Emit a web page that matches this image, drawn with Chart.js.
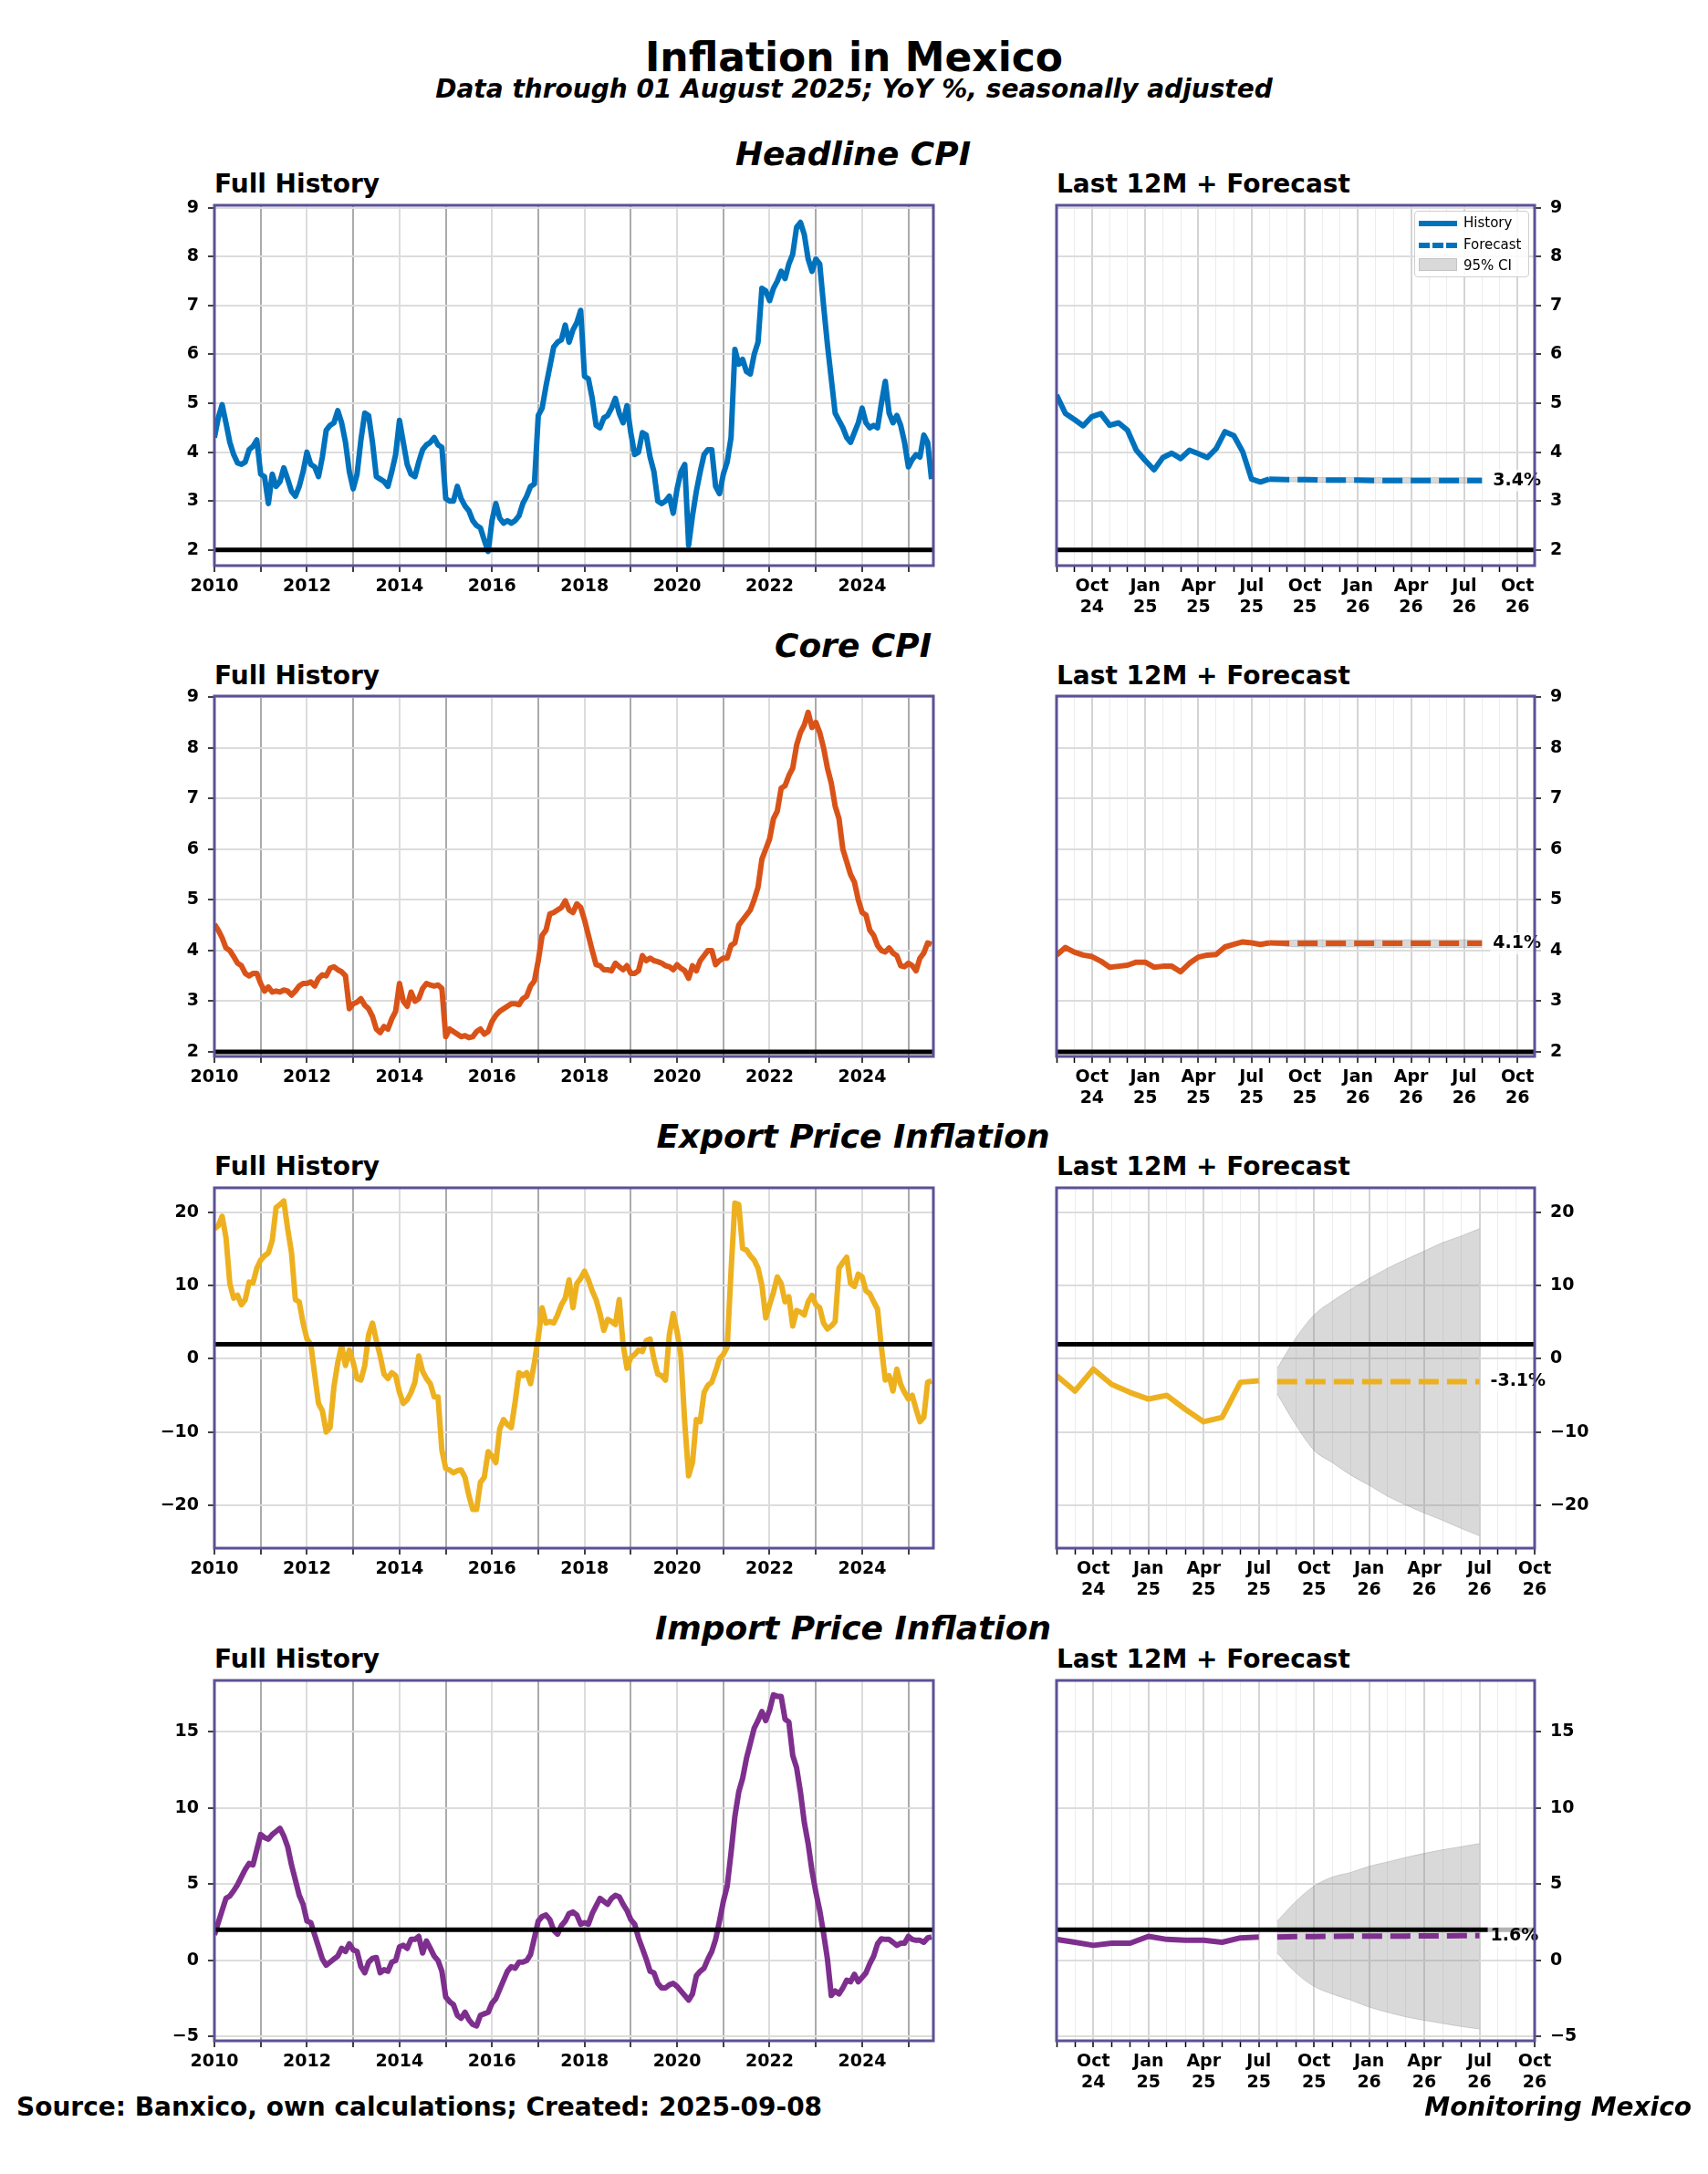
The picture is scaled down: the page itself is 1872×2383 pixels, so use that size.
<!DOCTYPE html>
<html>
<head>
<meta charset="utf-8">
<script src="https://cdn.jsdelivr.net/npm/chart.js@4.4.1/dist/chart.umd.min.js"></script>
<style>
  body { margin: 0; background: #fff; }
  #page { position: relative; width: 1872px; height: 2383px; background: #fff; overflow: hidden;
          font-family: "DejaVu Sans", sans-serif; color: #000; }
  .c { position: absolute; white-space: nowrap; line-height: 1; transform: translate(-50%, -50%); font-weight: bold; }
  .l { position: absolute; white-space: nowrap; line-height: 1; transform: translateY(-50%); font-weight: bold; }
  canvas { position: absolute; }
  #legend { position: absolute; left: 1550px; top: 231px; width: 126px; height: 73px; box-sizing: border-box;
            border: 1px solid #cfcfcf; border-radius: 4px; background: rgba(255,255,255,0.85); font-size: 15px; }
  #legend .it { position: absolute; left: 53px; line-height: 1; transform: translateY(-50%); white-space: nowrap; }
  #legend .hd { position: absolute; left: 4px; width: 42px; }
</style>
</head>
<body>
<div id="page">
  <div class="c" style="left:936px;top:63px;font-size:44px">Inflation in Mexico</div>
  <div class="c" style="left:936px;top:98px;font-size:28px;font-style:italic">Data through 01 August 2025; YoY %, seasonally adjusted</div>

  <div class="c" style="left:935px;top:169px;font-size:36px;font-style:italic">Headline CPI</div>
  <div class="l" style="left:235px;top:202px;font-size:28px">Full History</div>
  <div class="l" style="left:1158px;top:202px;font-size:28px">Last 12M + Forecast</div>

  <div class="c" style="left:935px;top:708px;font-size:36px;font-style:italic">Core CPI</div>
  <div class="l" style="left:235px;top:741px;font-size:28px">Full History</div>
  <div class="l" style="left:1158px;top:741px;font-size:28px">Last 12M + Forecast</div>

  <div class="c" style="left:935px;top:1246px;font-size:36px;font-style:italic">Export Price Inflation</div>
  <div class="l" style="left:235px;top:1279px;font-size:28px">Full History</div>
  <div class="l" style="left:1158px;top:1279px;font-size:28px">Last 12M + Forecast</div>

  <div class="c" style="left:935px;top:1785px;font-size:36px;font-style:italic">Import Price Inflation</div>
  <div class="l" style="left:235px;top:1819px;font-size:28px">Full History</div>
  <div class="l" style="left:1158px;top:1819px;font-size:28px">Last 12M + Forecast</div>

  <canvas id="h1"></canvas><canvas id="h2"></canvas>
  <canvas id="c1"></canvas><canvas id="c2"></canvas>
  <canvas id="e1"></canvas><canvas id="e2"></canvas>
  <canvas id="i1"></canvas><canvas id="i2"></canvas>

  <div id="legend">
    <div class="hd" style="top:10px;border-top:6px solid #0072BD"></div>
    <div class="it" style="top:12px">History</div>
    <div class="hd" style="top:34px;border-top:6px dashed #0072BD"></div>
    <div class="it" style="top:36px">Forecast</div>
    <div class="hd" style="top:51px;height:14px;background:#d9d9d9;border:1px solid #c4c4c4;box-sizing:border-box"></div>
    <div class="it" style="top:59px">95% CI</div>
  </div>

  <div class="l" style="left:18px;top:2310px;font-size:28px">Source: Banxico, own calculations; Created: 2025-09-08</div>
  <div class="l" style="right:18px;top:2310px;font-size:28px;font-style:italic">Monitoring Mexico</div>
</div>

<script>
// ---- data ----
const histStart = 2010; // monthly, Jan 2010 .. Jul 2025
const target = 2;

const headlineHist = [
  4.3, 4.7, 4.97, 4.6, 4.2, 3.95, 3.78, 3.75, 3.8, 4.05, 4.12, 4.25,
  3.55, 3.5, 2.95, 3.55, 3.3, 3.4, 3.68, 3.45, 3.2, 3.1, 3.3, 3.6,
  4.0, 3.75, 3.7, 3.5, 3.9, 4.45, 4.55, 4.6, 4.85, 4.6, 4.2, 3.6,
  3.25, 3.55, 4.25, 4.8, 4.75, 4.2, 3.5, 3.45, 3.4, 3.3, 3.6, 3.95,
  4.65, 4.2, 3.75, 3.55, 3.5, 3.8, 4.05, 4.15, 4.2, 4.3, 4.15, 4.1,
  3.05, 3.0, 3.0, 3.3, 3.05, 2.9, 2.8, 2.6, 2.5, 2.45, 2.2, 1.97,
  2.6, 2.95, 2.65, 2.55, 2.6, 2.55, 2.6, 2.7, 2.95, 3.1, 3.3, 3.35,
  4.75, 4.9, 5.35, 5.75, 6.15, 6.25, 6.3, 6.6, 6.25, 6.5, 6.65, 6.9,
  5.55, 5.5, 5.1, 4.55, 4.5, 4.7, 4.75, 4.9, 5.1, 4.8, 4.6, 4.95,
  4.4, 3.95, 4.0, 4.4, 4.35, 3.9, 3.6, 3.0, 2.95, 3.0, 3.1, 2.75,
  3.25, 3.6, 3.75, 2.1, 2.7, 3.2, 3.6, 3.95, 4.05, 4.05, 3.3, 3.15,
  3.55, 3.8, 4.3, 6.1, 5.8, 5.9, 5.65, 5.6, 6.0, 6.25, 7.35, 7.3,
  7.1, 7.35, 7.5, 7.7, 7.55, 7.85, 8.05, 8.6, 8.7, 8.45, 7.95, 7.7,
  7.95, 7.85, 7.0, 6.2, 5.5, 4.8, 4.65, 4.5, 4.3, 4.2, 4.4, 4.6,
  4.9, 4.6, 4.5, 4.55, 4.5, 5.0, 5.45, 4.8, 4.6, 4.75, 4.55, 4.2,
  3.7, 3.85, 3.95, 3.9, 4.35, 4.2, 3.45
];
const coreHist = [
  4.52, 4.4, 4.25, 4.05, 4.0, 3.88, 3.75, 3.7, 3.55, 3.5, 3.55, 3.55,
  3.35, 3.2, 3.28, 3.18, 3.2, 3.18, 3.22, 3.2, 3.12, 3.2, 3.3, 3.35,
  3.35, 3.38, 3.3, 3.45, 3.52, 3.5, 3.65, 3.68, 3.62, 3.58, 3.5, 2.85,
  2.95, 2.98, 3.05, 2.92, 2.85, 2.7, 2.45, 2.38, 2.5, 2.45, 2.65, 2.8,
  3.35, 3.0, 2.9, 3.18, 3.0, 3.05, 3.25, 3.35, 3.32, 3.3, 3.32, 3.25,
  2.3, 2.45, 2.4, 2.35, 2.3, 2.32, 2.28, 2.3, 2.4, 2.45, 2.35, 2.4,
  2.6, 2.72, 2.8, 2.85, 2.9, 2.95, 2.95, 2.93, 3.05, 3.1, 3.3, 3.4,
  3.8, 4.3, 4.4, 4.72, 4.75, 4.8, 4.85, 4.98, 4.8, 4.75, 4.92, 4.85,
  4.6, 4.3, 4.0, 3.72, 3.7, 3.62, 3.62, 3.6, 3.75, 3.68, 3.62, 3.7,
  3.55, 3.55, 3.6, 3.9, 3.8, 3.85, 3.8, 3.78, 3.75, 3.7, 3.68, 3.62,
  3.72, 3.65, 3.6, 3.45, 3.7, 3.6, 3.8, 3.9, 4.0, 4.0, 3.72, 3.8,
  3.85, 3.85, 4.1, 4.15, 4.5, 4.6, 4.7, 4.8, 5.0, 5.25, 5.8, 6.0,
  6.2, 6.6, 6.75, 7.2, 7.25, 7.45, 7.6, 8.05, 8.3, 8.45, 8.7, 8.4,
  8.5, 8.3, 8.0, 7.6, 7.3, 6.85, 6.6, 6.0, 5.75, 5.5, 5.35, 5.0,
  4.75, 4.7, 4.4, 4.3, 4.1, 4.0, 3.97, 4.05, 3.95, 3.9, 3.7, 3.68,
  3.75, 3.7, 3.6, 3.85, 3.95, 4.15, 4.12
];
const exportHist = [
  17.8, 18.2, 19.5, 16.6, 10.3, 8.3, 8.7, 7.4, 8.1, 10.5, 10.4, 12.4,
  13.5, 14.1, 14.5, 16.2, 20.7, 21.1, 21.6, 17.8, 14.5, 8.1, 7.8, 4.9,
  2.7, 2.0, -2.1, -6.1, -7.1, -10.0, -9.4, -3.8, -0.5, 1.8, -0.9, 1.2,
  -0.5, -2.7, -2.9, -0.9, 3.3, 4.9, 2.5, 0.4, -2.1, -2.7, -1.9, -2.3,
  -4.6, -6.1, -5.6, -4.6, -3.2, 0.4, -1.7, -2.7, -3.4, -5.2, -5.2, -12.5,
  -15.0, -15.2, -15.6, -15.3, -15.2, -16.2, -18.7, -20.6, -20.6, -16.9, -16.2, -12.7,
  -13.3, -14.2, -9.6, -8.3, -9.0, -9.4, -5.9, -1.9, -2.3, -1.9, -3.4, -0.5,
  2.9, 7.0, 4.9, 5.1, 4.9, 6.0, 7.4, 8.3, 10.8, 7.0, 10.3, 11.0,
  12.0, 10.8, 9.3, 8.1, 6.2, 3.9, 5.4, 5.1, 4.7, 8.1, 2.0, -1.3,
  0.2, 0.6, 1.2, 1.0, 2.5, 2.7, 0.0, -2.1, -2.3, -2.9, 3.3, 6.2,
  3.7, 0.4, -8.8, -16.0, -14.2, -8.3, -8.6, -4.6, -3.6, -3.2, -1.7, 0.0,
  0.6, 1.6, 12.0, 21.3, 21.1, 15.1, 14.9, 14.1, 13.5, 12.4, 10.1, 5.6,
  7.4, 9.1, 11.2, 10.3, 7.8, 8.5, 4.5, 6.6, 6.4, 6.0, 7.8, 8.7,
  7.4, 7.0, 4.9, 4.1, 4.5, 5.1, 12.4, 13.2, 13.9, 10.3, 9.9, 11.6,
  11.2, 9.3, 8.9, 7.8, 6.8, 1.6, -2.9, -2.3, -4.4, -1.4, -3.5, -4.6,
  -5.5, -5.0, -6.9, -8.6, -8.0, -3.2, -3.0
];
const importHist = [
  1.67, 2.47, 3.27, 4.06, 4.22, 4.56, 4.96, 5.46, 5.96, 6.35, 6.25, 7.25,
  8.25, 8.05, 7.95, 8.25, 8.45, 8.65, 8.15, 7.45, 6.25, 5.26, 4.26, 3.67,
  2.57, 2.47, 1.67, 0.88, 0.08, -0.32, -0.12, 0.08, 0.28, 0.78, 0.58, 1.08,
  0.68, 0.58, -0.42, -0.82, -0.12, 0.12, 0.18, -0.82, -0.62, -0.72, -0.12, -0.02,
  0.88, 0.98, 0.78, 1.37, 1.37, 1.57, 0.48, 1.27, 0.78, 0.28, -0.02, -0.72,
  -2.41, -2.71, -2.91, -3.61, -3.8, -3.41, -3.9, -4.2, -4.3, -3.61, -3.51, -3.41,
  -2.81, -2.51, -1.91, -1.31, -0.72, -0.42, -0.52, -0.12, -0.12, -0.02, 0.38, 1.47,
  2.57, 2.87, 2.97, 2.67, 1.97, 1.71, 2.27, 2.57, 3.07, 3.17, 2.97, 2.37,
  2.47, 2.37, 3.07, 3.57, 4.06, 3.86, 3.67, 4.06, 4.26, 4.16, 3.67, 3.27,
  2.67, 2.37, 1.47, 0.78, 0.08, -0.72, -0.82, -1.51, -1.81, -1.81, -1.61, -1.51,
  -1.71, -2.01, -2.31, -2.61, -2.21, -1.02, -0.72, -0.52, 0.08, 0.58, 1.37, 2.57,
  3.86, 4.86, 7.05, 9.44, 11.04, 11.93, 13.23, 14.22, 15.22, 15.72, 16.31, 15.72,
  16.41, 17.41, 17.31, 17.31, 15.82, 15.62, 13.43, 12.63, 11.04, 9.04, 7.65, 5.86,
  4.46, 3.27, 1.77, 0.08, -2.31, -2.01, -2.21, -1.81, -1.31, -1.41, -0.92, -1.41,
  -1.12, -0.82, -0.22, 0.28, 1.08, 1.41, 1.37, 1.37, 1.18, 0.98, 1.12, 1.12,
  1.57, 1.37, 1.31, 1.31, 1.18, 1.47, 1.53
];

// last 12 months (headline/core are bi-weekly)
const biweeklyDates = [
  '2024-08-01','2024-08-16','2024-09-01','2024-09-16','2024-10-01','2024-10-16',
  '2024-11-01','2024-11-16','2024-12-01','2024-12-16','2025-01-01','2025-01-16',
  '2025-02-01','2025-02-16','2025-03-01','2025-03-16','2025-04-01','2025-04-16',
  '2025-05-01','2025-05-16','2025-06-01','2025-06-16','2025-07-01','2025-07-16','2025-08-01'
];
const headlineLast = [5.17, 4.79, 4.67, 4.54, 4.73, 4.79, 4.55, 4.6, 4.45, 4.04, 3.83, 3.64,
  3.89, 3.98, 3.87, 4.04, 3.97, 3.89, 4.07, 4.42, 4.34, 4.01, 3.45, 3.39, 3.45];
const coreLast = [3.91, 4.06, 3.97, 3.91, 3.88, 3.79, 3.67, 3.69, 3.71, 3.77, 3.77, 3.67,
  3.69, 3.69, 3.58, 3.75, 3.87, 3.91, 3.92, 4.07, 4.12, 4.17, 4.15, 4.12, 4.15];

const cpiFcDates = ['2025-08-01','2025-09-01','2025-10-01','2025-11-01','2025-12-01','2026-01-01',
  '2026-02-01','2026-03-01','2026-04-01','2026-05-01','2026-06-01','2026-07-01','2026-08-01'];
const headlineFc   = [3.45, 3.44, 3.44, 3.43, 3.43, 3.43, 3.42, 3.42, 3.42, 3.42, 3.42, 3.42, 3.42];
const headlineFcLo = [3.43, 3.40, 3.39, 3.38, 3.38, 3.38, 3.37, 3.37, 3.37, 3.37, 3.37, 3.37, 3.37];
const headlineFcHi = [3.47, 3.48, 3.49, 3.48, 3.48, 3.48, 3.48, 3.48, 3.48, 3.48, 3.48, 3.48, 3.48];
const coreFc   = [4.15, 4.14, 4.14, 4.14, 4.14, 4.14, 4.14, 4.14, 4.14, 4.14, 4.14, 4.14, 4.14];
const coreFcLo = [4.12, 4.08, 4.07, 4.07, 4.07, 4.07, 4.06, 4.06, 4.06, 4.06, 4.06, 4.06, 4.06];
const coreFcHi = [4.18, 4.20, 4.21, 4.21, 4.21, 4.21, 4.21, 4.21, 4.21, 4.21, 4.21, 4.21, 4.21];

// trade prices are monthly
const monthlyLastDates = ['2024-08-01','2024-09-01','2024-10-01','2024-11-01','2024-12-01','2025-01-01',
  '2025-02-01','2025-03-01','2025-04-01','2025-05-01','2025-06-01','2025-07-01'];
const tradeFcDates = ['2025-08-01','2025-09-01','2025-10-01','2025-11-01','2025-12-01','2026-01-01',
  '2026-02-01','2026-03-01','2026-04-01','2026-05-01','2026-06-01','2026-07-01'];
const exportLast = [-2.3, -4.4, -1.4, -3.5, -4.6, -5.5, -5.0, -6.9, -8.6, -8.0, -3.2, -3.0];
const exportFc   = [-3.12, -3.12, -3.12, -3.12, -3.12, -3.12, -3.12, -3.12, -3.12, -3.12, -3.12, -3.12];
const exportFcLo = [-4.8, -9.0, -12.5, -14.2, -15.9, -17.3, -18.8, -20.0, -21.1, -22.1, -23.2, -24.2];
const exportFcHi = [-1.3, 2.8, 6.0, 7.9, 9.5, 11.0, 12.4, 13.6, 14.75, 15.9, 16.8, 17.8];
const importLast = [1.37, 1.18, 0.98, 1.12, 1.12, 1.57, 1.37, 1.31, 1.31, 1.18, 1.47, 1.53];
const importFc   = [1.53, 1.55, 1.56, 1.57, 1.58, 1.58, 1.59, 1.59, 1.60, 1.60, 1.61, 1.61];
const importFcLo = [0.48, -0.8, -1.71, -2.21, -2.61, -3.07, -3.41, -3.71, -3.94, -4.14, -4.34, -4.5];
const importFcHi = [2.57, 3.85, 4.86, 5.46, 5.76, 6.16, 6.45, 6.75, 7.01, 7.25, 7.45, 7.65];

// axis ticks
const yearTicks = [2010, 2011, 2012, 2013, 2014, 2015, 2016, 2017, 2018, 2019, 2020, 2021, 2022, 2023, 2024, 2025];
const cpiTicks = [2, 3, 4, 5, 6, 7, 8, 9];
const exportTicks = [-20, -10, 0, 10, 20];
const importTicks = [-5, 0, 5, 10, 15];
const zoomMonthTicks = [0, 1, 2, 3, 4, 5, 6, 7, 8, 9, 10, 11, 12, 13, 14, 15, 16, 17, 18, 19, 20, 21, 22, 23, 24, 25, 26];
const zoomLabelTicks = [2, 5, 8, 11, 14, 17, 20, 23, 26];
const zoomLabels = [['Oct','24'],['Jan','25'],['Apr','25'],['Jul','25'],['Oct','25'],['Jan','26'],['Apr','26'],['Jul','26'],['Oct','26']];

// ---- layout ----
const LEFT = { x: 235, w: 788 };
const RIGHT = { x: 1158, w: 524 };
const PANEL_H = 395;
const Y_AXIS_W = 72, PAD = 16, PAD_TOP = 26, XH_LEFT = 55, XH_RIGHT = 80;
const SPINE = '#5b5196';
const LINE_W = 6;
const TICK_FONT = { family: '"DejaVu Sans", sans-serif', size: 19, weight: 'bold' };

Chart.defaults.font.family = '"DejaVu Sans", sans-serif';
Chart.defaults.animation = false;
Chart.defaults.devicePixelRatio = 1;

Chart.register({
  id: 'spines',
  afterDraw(chart) {
    const a = chart.chartArea, ctx = chart.ctx;
    ctx.save();
    ctx.strokeStyle = SPINE;
    ctx.lineWidth = 3;
    ctx.strokeRect(a.left, a.top, a.right - a.left, a.bottom - a.top);
    ctx.restore();
  }
});

Chart.register({
  id: 'endLabel',
  afterDatasetsDraw(chart, args, opts) {
    if (!opts || opts.index == null) return;
    const pts = chart.getDatasetMeta(opts.index).data;
    const p = pts[pts.length - 1];
    const ctx = chart.ctx;
    ctx.save();
    ctx.font = 'bold 19px "DejaVu Sans"';
    const w = ctx.measureText(opts.text).width;
    const x = p.x + 12;
    ctx.fillStyle = 'rgba(255,255,255,0.7)';
    ctx.fillRect(x - 3, p.y - 12, w + 6, 24);
    ctx.fillStyle = '#000';
    ctx.textBaseline = 'middle';
    ctx.fillText(opts.text, x, p.y);
    ctx.restore();
  }
});

function fmtY(v) { return v < 0 ? '\u2212' + Math.abs(v) : String(v); }

function monthsSinceAug24(s) {
  const [y, m, d] = s.split('-').map(Number);
  return (y - 2024) * 12 + (m - 8) + (d - 1) / 30;
}

function setCanvas(id, rx, top, rw, yRight, xh) {
  const cv = document.getElementById(id);
  const w = rw + Y_AXIS_W + PAD, h = PANEL_H + PAD_TOP + xh;
  cv.width = w; cv.height = h;
  cv.style.width = w + 'px'; cv.style.height = h + 'px';
  cv.style.left = (yRight ? rx - PAD : rx - Y_AXIS_W) + 'px';
  cv.style.top = (top - PAD_TOP) + 'px';
  return cv;
}

function yAxis(pos, min, max, ticks) {
  return {
    type: 'linear', position: pos, min: min, max: max,
    afterBuildTicks: s => { s.ticks = ticks.map(v => ({ value: v })); },
    afterFit: s => { s.width = Y_AXIS_W; },
    border: { display: false },
    grid: { color: '#dcdcdc', lineWidth: 2, drawTicks: true, tickLength: 7, tickColor: '#000', tickWidth: 1.5 },
    ticks: { font: TICK_FONT, color: '#000', padding: 10, callback: v => fmtY(v) }
  };
}

function fullHistory(id, top, vals, color, yMin, yMax, ticks) {
  const cv = setCanvas(id, LEFT.x, top, LEFT.w, false, XH_LEFT);
  const xMin = histStart, xMax = 2025.54;
  const pts = vals.map((v, i) => ({ x: histStart + i / 12, y: v }));
  new Chart(cv, {
    type: 'line',
    data: {
      datasets: [
        { data: [{ x: xMin, y: target }, { x: xMax, y: target }], borderColor: '#000', borderWidth: 5, pointRadius: 0 },
        { data: pts, borderColor: color, borderWidth: LINE_W, pointRadius: 0, tension: 0, borderJoinStyle: 'round' }
      ]
    },
    options: {
      responsive: false,
      layout: { padding: { top: PAD_TOP, right: PAD, left: 0, bottom: 0 } },
      plugins: { legend: { display: false }, tooltip: { enabled: false } },
      scales: {
        x: {
          type: 'linear', min: xMin, max: xMax,
          afterBuildTicks: s => { s.ticks = yearTicks.map(v => ({ value: v })); },
          afterFit: s => { s.height = XH_LEFT; },
          border: { display: false },
          grid: {
            color: c => (c.tick && c.tick.value % 2 === 1) ? '#ababab' : '#dcdcdc',
            lineWidth: 2, drawTicks: true, tickLength: 7, tickColor: '#000', tickWidth: 1.5
          },
          ticks: { font: TICK_FONT, color: '#000', padding: 5, autoSkip: false, maxRotation: 0,
                   callback: v => v % 2 === 0 ? String(v) : '' }
        },
        y: yAxis('left', yMin, yMax, ticks)
      }
    }
  });
}

function lastAndForecast(id, top, cfg) {
  const cv = setCanvas(id, RIGHT.x, top, RIGHT.w, true, XH_RIGHT);
  const xMax = cfg.xMax;
  const hist = cfg.lastDates.map((d, i) => ({ x: monthsSinceAug24(d), y: cfg.last[i] }));
  const fc = cfg.fcDates.map((d, i) => ({ x: monthsSinceAug24(d), y: cfg.fc[i] }));
  const lo = cfg.fcDates.map((d, i) => ({ x: monthsSinceAug24(d), y: cfg.lo[i] }));
  const hi = cfg.fcDates.map((d, i) => ({ x: monthsSinceAug24(d), y: cfg.hi[i] }));
  const last = cfg.fc[cfg.fc.length - 1];
  new Chart(cv, {
    type: 'line',
    data: {
      datasets: [
        { data: [{ x: 0, y: target }, { x: xMax, y: target }], borderColor: '#000', borderWidth: 5, pointRadius: 0 },
        { data: hist, borderColor: cfg.color, borderWidth: LINE_W, pointRadius: 0, tension: 0, borderJoinStyle: 'round' },
        { data: fc, borderColor: cfg.color, borderWidth: LINE_W, borderDash: [22, 9], pointRadius: 0, tension: 0 },
        { data: hi, borderColor: 'rgba(140,140,140,0.35)', borderWidth: 1, pointRadius: 0, cubicInterpolationMode: 'monotone',
          fill: '+1', backgroundColor: 'rgba(140,140,140,0.33)' },
        { data: lo, borderColor: 'rgba(140,140,140,0.35)', borderWidth: 1, pointRadius: 0, cubicInterpolationMode: 'monotone' }
      ]
    },
    options: {
      responsive: false,
      layout: { padding: { top: PAD_TOP, left: PAD, right: 0, bottom: 0 } },
      plugins: {
        legend: { display: false }, tooltip: { enabled: false },
        endLabel: { index: 2, text: last.toFixed(1) + '%' }
      },
      scales: {
        x: {
          type: 'linear', min: 0, max: xMax,
          afterBuildTicks: s => { s.ticks = zoomMonthTicks.filter(v => v <= xMax).map(v => ({ value: v })); },
          afterFit: s => { s.height = XH_RIGHT; },
          border: { display: false },
          grid: {
            color: c => (c.tick && zoomLabelTicks.includes(c.tick.value)) ? '#d4d4d4' : '#ececec',
            lineWidth: c => (c.tick && zoomLabelTicks.includes(c.tick.value)) ? 2 : 1,
            drawTicks: true, tickLength: 7, tickColor: '#000', tickWidth: 1.5
          },
          ticks: { font: TICK_FONT, color: '#000', padding: 5, autoSkip: false, maxRotation: 0,
                   callback: v => { const k = zoomLabelTicks.indexOf(v); return k >= 0 ? zoomLabels[k] : ''; } }
        },
        y: yAxis('right', cfg.yMin, cfg.yMax, cfg.ticks)
      }
    }
  });
}

const tops = [225, 763, 1302, 1842];

fullHistory('h1', tops[0], headlineHist, '#0072BD', 1.68, 9.05, cpiTicks);
lastAndForecast('h2', tops[0], { color: '#0072BD', xMax: 26.97, yMin: 1.68, yMax: 9.05, ticks: cpiTicks,
  lastDates: biweeklyDates, last: headlineLast, fcDates: cpiFcDates, fc: headlineFc, lo: headlineFcLo, hi: headlineFcHi });

fullHistory('c1', tops[1], coreHist, '#D95319', 1.91, 9.02, cpiTicks);
lastAndForecast('c2', tops[1], { color: '#D95319', xMax: 26.97, yMin: 1.91, yMax: 9.02, ticks: cpiTicks,
  lastDates: biweeklyDates, last: coreLast, fcDates: cpiFcDates, fc: coreFc, lo: coreFcLo, hi: coreFcHi });

fullHistory('e1', tops[2], exportHist, '#EDB120', -25.9, 23.4, exportTicks);
lastAndForecast('e2', tops[2], { color: '#EDB120', xMax: 26, yMin: -25.9, yMax: 23.4, ticks: exportTicks,
  lastDates: monthlyLastDates, last: exportLast, fcDates: tradeFcDates, fc: exportFc, lo: exportFcLo, hi: exportFcHi });

fullHistory('i1', tops[3], importHist, '#7E2F8E', -5.28, 18.35, importTicks);
lastAndForecast('i2', tops[3], { color: '#7E2F8E', xMax: 26, yMin: -5.28, yMax: 18.35, ticks: importTicks,
  lastDates: monthlyLastDates, last: importLast, fcDates: tradeFcDates, fc: importFc, lo: importFcLo, hi: importFcHi });
</script>
</body>
</html>
